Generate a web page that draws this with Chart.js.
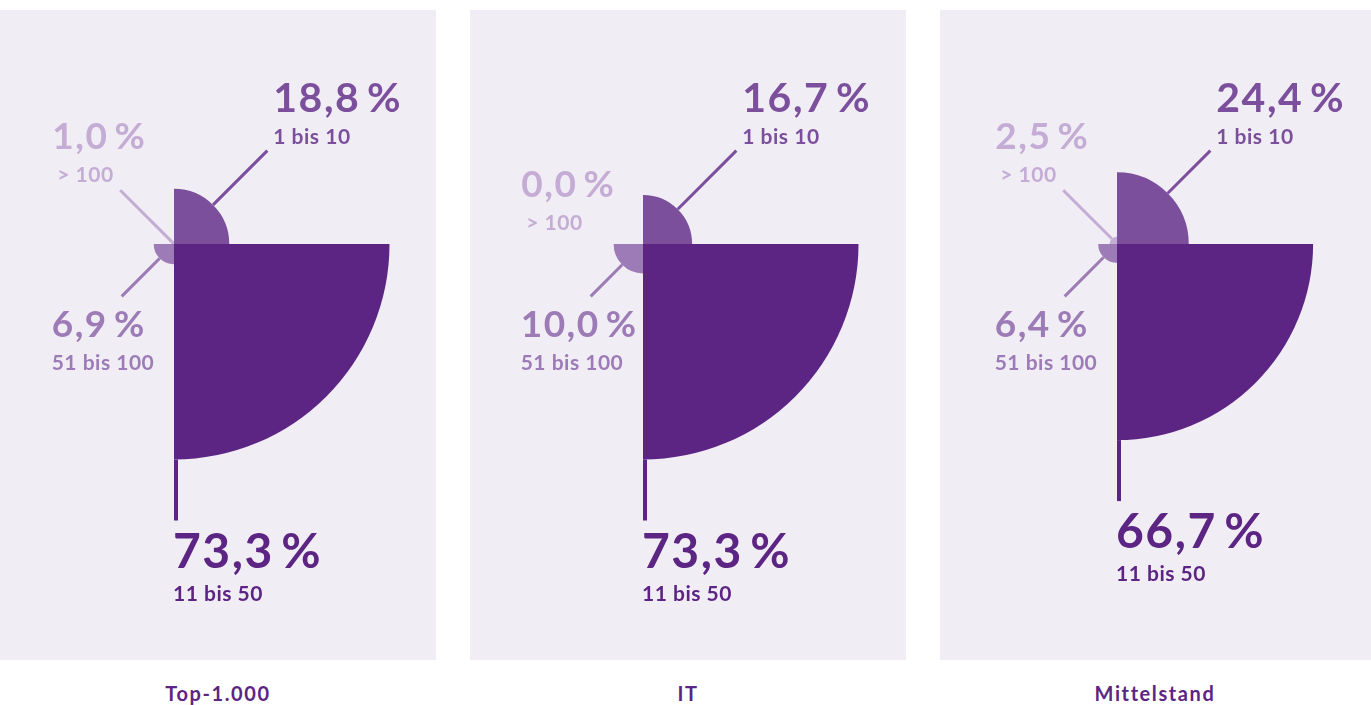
<!DOCTYPE html>
<html>
<head>
<meta charset="utf-8">
<title>Unternehmensgröße</title>
<script src="https://cdn.jsdelivr.net/npm/chart.js@4.4.1/dist/chart.umd.min.js"></script>
<style>
  body { margin: 0; width: 1371px; height: 705px; overflow: hidden; background: #fff; font-family: Lato, sans-serif; }
  .panel { position: absolute; top: 10px; width: 436px; height: 650px; background: #f0edf5; overflow: hidden; }
  .panel canvas { position: absolute; left: 0; top: 0; }
  .title { position: absolute; top: 683px; width: 436px; text-align: center; font: 700 20px Lato, sans-serif; line-height: 20px; letter-spacing: 1.6px; color: #5c2483; }
</style>
</head>
<body>
<div class="panel" style="left:0px"><canvas id="c0" width="436" height="650"></canvas></div>
<div class="panel" style="left:470px"><canvas id="c1" width="436" height="650"></canvas></div>
<div class="panel" style="left:940px;width:431px"><canvas id="c2" width="431" height="650"></canvas></div>
<div class="title" style="left:0px" id="t0"></div>
<div class="title" style="left:470px" id="t1"></div>
<div class="title" style="left:937px" id="t2"></div>
<script>
// Anzahl der Mitarbeiter / Einheiten, Anteil in Prozent
const categories = ['1 bis 10', '11 bis 50', '51 bis 100', '> 100'];
const groups = ['Top-1.000', 'IT', 'Mittelstand'];
const top1000 = [18.8, 73.3, 6.9, 1.0];
const it = [16.7, 73.3, 10.0, 0.0];
const mittelstand = [24.4, 66.7, 6.4, 2.5];
const series = [top1000, it, mittelstand];

const colors = ['#7b4f9c', '#5c2483', '#9d7bb6', '#c4acd5'];

// layout: chart centre inside each panel, pixels per percent point
const centersX = [174, 173, 177];
const centerY = 234;
const area = 170;
const pxPerPct = 215.5 / 73.3;

// callout lines + label offsets for each category
const callouts = [
  { dir: 'mid', len: 132, width: 3, dx: 6, dx2: 0, big: 41, dy1: -39, dy2: -7 },
  { dir: 'end', len: 61, width: 4, dx: -1, dx2: 0, big: 48, dy1: 47, dy2: 80 },
  { dir: 'mid', len: 74, width: 3, dx: -70, dx2: 0, big: 37, dy1: 41, dy2: 74 },
  { dir: 'mid', len: 76, width: 3, dx: -68, dx2: 5, big: 37, dy1: -41, dy2: -8, zeroDy: 48 }
];

function fmt(v) {
  return v.toFixed(1).replace('.', ',') + '\u2009%';
}

const calloutPlugin = {
  id: 'callouts',
  afterDatasetsDraw(chart) {
    const ctx = chart.ctx;
    const meta = chart.getDatasetMeta(0);
    const values = chart.data.datasets[0].data;
    ctx.save();
    meta.data.forEach((arc, i) => {
      const c = callouts[i];
      const v = values[i];
      const ang = c.dir === 'mid' ? (arc.startAngle + arc.endAngle) / 2 : arc.endAngle;
      const cos = Math.cos(ang), sin = Math.sin(ang);
      const r0 = arc.outerRadius;
      const r1 = c.dir === 'mid' ? c.len : r0 + c.len;
      const ex = arc.x + cos * r1;
      const ey = arc.y + sin * r1;
      let shift = 0;
      if (v > 0) {
        ctx.strokeStyle = colors[i];
        ctx.lineWidth = c.width;
        ctx.lineCap = 'butt';
        const off = c.dir === 'end' ? c.width / 2 : 0;
        ctx.beginPath();
        ctx.moveTo(arc.x + cos * r0 + off, arc.y + sin * r0);
        ctx.lineTo(ex + off, ey);
        ctx.stroke();
      } else {
        shift = c.zeroDy || 0;
      }
      ctx.fillStyle = colors[i];
      ctx.textAlign = 'left';
      ctx.textBaseline = 'alphabetic';
      ctx.font = '700 ' + c.big + 'px Lato';
      ctx.letterSpacing = '1.5px';
      ctx.fillText(fmt(v), ex + c.dx, ey + c.dy1 + shift);
      ctx.font = '700 21px Lato';
      ctx.letterSpacing = '0.5px';
      ctx.fillText(categories[i], ex + c.dx + c.dx2, ey + c.dy2 + shift);
    });
    ctx.restore();
  }
};

series.forEach((data, k) => {
  const canvas = document.getElementById('c' + k);
  const w = canvas.width, h = canvas.height;
  const cx = centersX[k];
  document.getElementById('t' + k).textContent = groups[k];
  new Chart(canvas, {
    type: 'polarArea',
    data: {
      labels: categories,
      datasets: [{
        data: data,
        backgroundColor: colors,
        borderWidth: 0
      }]
    },
    options: {
      responsive: false,
      animation: false,
      layout: {
        padding: { left: cx - area, right: w - cx - area, top: centerY - area, bottom: h - centerY - area }
      },
      scales: {
        r: {
          display: false,
          min: 0,
          max: area / pxPerPct,
          ticks: { display: false },
          pointLabels: { display: false }
        }
      },
      plugins: {
        legend: { display: false },
        tooltip: { enabled: false }
      }
    },
    plugins: [calloutPlugin]
  });
});
</script>
</body>
</html>
